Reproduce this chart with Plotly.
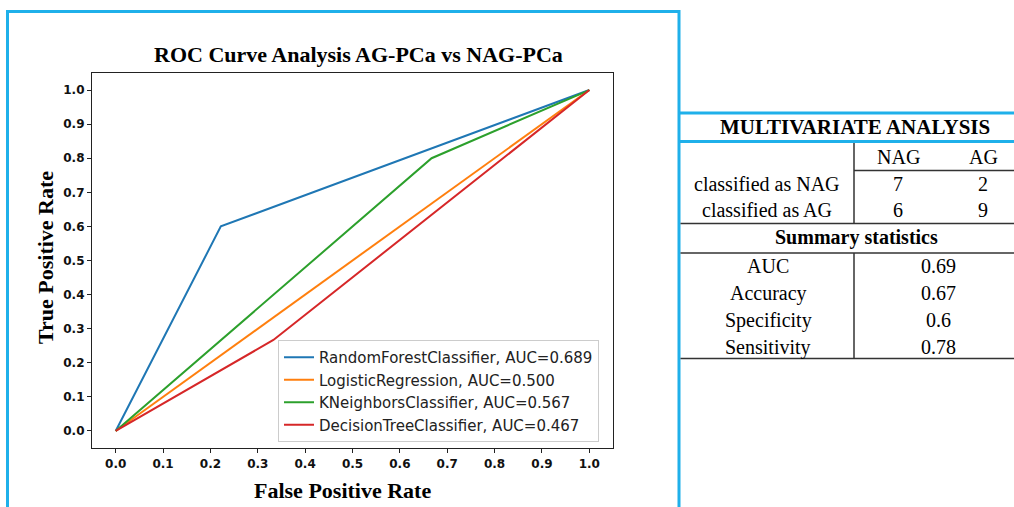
import plotly.graph_objects as go

# ---------------- data ----------------
model_names = ["RandomForestClassifier", "LogisticRegression", "KNeighborsClassifier", "DecisionTreeClassifier"]
model_auc = ["0.689", "0.500", "0.567", "0.467"]
fpr_rf = [0.0, 0.222, 1.0]
tpr_rf = [0.0, 0.6, 1.0]
fpr_lr = [0.0, 1.0]
tpr_lr = [0.0, 1.0]
fpr_knn = [0.0, 0.667, 1.0]
tpr_knn = [0.0, 0.8, 1.0]
fpr_dt = [0.0, 0.333, 1.0]
tpr_dt = [0.0, 0.267, 1.0]
line_colors = ["#1f77b4", "#ff7f0e", "#2ca02c", "#d62728"]

tick_vals = [0.0, 0.1, 0.2, 0.3, 0.4, 0.5, 0.6, 0.7, 0.8, 0.9, 1.0]

chart_title = "ROC Curve Analysis AG-PCa vs NAG-PCa"
x_title = "False Positive Rate"
y_title = "True Positive Rate"

table_title = "MULTIVARIATE ANALYSIS"
col_labels = ["NAG", "AG"]
row_labels = ["classified as NAG", "classified as AG"]
confusion = [[7, 2], [6, 9]]
summary_title = "Summary statistics"
stat_names = ["AUC", "Accuracy", "Specificity", "Sensitivity"]
stat_values = ["0.69", "0.67", "0.6", "0.78"]

# ---------------- layout geometry (pixels) ----------------
W, H = 1014, 507
L, R, T, B = 92, 401, 73, 59
PW = W - L - R
PH = H - T - B


def px(x):
    return (x - L) / PW


def py(y):
    return (H - B - y) / PH


SERIF = "Liberation Serif, Times New Roman, serif"
SANS = "DejaVu Sans, sans-serif"
BLUE = "#1fb0ea"

fig = go.Figure()
series = [(fpr_rf, tpr_rf), (fpr_lr, tpr_lr), (fpr_knn, tpr_knn), (fpr_dt, tpr_dt)]
for (fx, ty), name, auc, col in zip(series, model_names, model_auc, line_colors):
    fig.add_trace(go.Scatter(
        x=fx, y=ty, mode="lines", name=f"{name}, AUC={auc}",
        line=dict(color=col, width=2),
    ))

axis_common = dict(
    range=[-0.05, 1.05], tickvals=tick_vals, tickformat=".1f",
    showgrid=False, zeroline=False, showline=True, mirror=True,
    linecolor="#222222", linewidth=1.2, ticks="outside", ticklen=4,
    tickcolor="#222222", tickwidth=1.2,
    tickfont=dict(family=SANS, size=12, color="#111111", weight="bold"),
)

fig.update_layout(
    width=W, height=H,
    margin=dict(l=L, r=R, t=T, b=B),
    paper_bgcolor="white", plot_bgcolor="white",
    xaxis=axis_common, yaxis=axis_common,
    showlegend=True,
    legend=dict(
        x=px(278), y=py(442), xanchor="left", yanchor="bottom",
        bgcolor="rgba(255,255,255,0.85)", bordercolor="#cccccc", borderwidth=1,
        font=dict(family=SANS, size=15, color="#222222"),
    ),
)

ann = []
# chart titles
ann.append(dict(text=f"<b>{chart_title}</b>", x=px(358), y=py(55), font=dict(family=SERIF, size=22, color="black")))
ann.append(dict(text=f"<b>{x_title}</b>", x=px(342), y=py(490), font=dict(family=SERIF, size=22, color="black")))
ann.append(dict(text=f"<b>{y_title}</b>", x=px(45), y=py(258), textangle=-90, font=dict(family=SERIF, size=22, color="black")))

# table text
tf = dict(family=SERIF, size=20, color="black")
ann.append(dict(text=f"<b>{table_title}</b>", x=px(855), y=py(127), font=dict(family=SERIF, size=21, color="black")))
col_x = [898, 983]
for cx, lab in zip(col_x, col_labels):
    ann.append(dict(text=lab, x=px(cx), y=py(157), font=tf))
row_y = [184, 210]
for ry, lab, vals in zip(row_y, row_labels, confusion):
    ann.append(dict(text=lab, x=px(767), y=py(ry), font=tf))
    for cx, v in zip(col_x, vals):
        ann.append(dict(text=str(v), x=px(cx), y=py(ry), font=tf))
ann.append(dict(text=f"<b>{summary_title}</b>", x=px(856), y=py(238), font=tf))
stat_y = [266, 293, 320, 347]
for sy, n, v in zip(stat_y, stat_names, stat_values):
    ann.append(dict(text=n, x=px(768), y=py(sy), font=tf))
    ann.append(dict(text=v, x=px(938), y=py(sy), font=tf))

for a in ann:
    a.update(xref="paper", yref="paper", showarrow=False, xanchor="center", yanchor="middle")
fig.update_layout(annotations=ann)

# frame and table lines
shapes = []
shapes.append(dict(type="path",
                   path=f"M {px(7.5)},{py(512)} L {px(7.5)},{py(11.5)} L {px(679)},{py(11.5)} L {px(679)},{py(512)}",
                   line=dict(color=BLUE, width=3)))
for yy in [113, 141.5]:
    shapes.append(dict(type="line", x0=px(679), x1=px(1016), y0=py(yy), y1=py(yy), line=dict(color=BLUE, width=3)))
BLK = dict(color="#333333", width=1.5)
shapes.append(dict(type="line", x0=px(854), x1=px(1016), y0=py(170.5), y1=py(170.5), line=BLK))
for yy in [223.5, 253, 358.5]:
    shapes.append(dict(type="line", x0=px(680.5), x1=px(1016), y0=py(yy), y1=py(yy), line=BLK))
shapes.append(dict(type="line", x0=px(854), x1=px(854), y0=py(143), y1=py(223.5), line=BLK))
shapes.append(dict(type="line", x0=px(854), x1=px(854), y0=py(253), y1=py(358.5), line=BLK))
for s in shapes:
    s.update(xref="paper", yref="paper", layer="above")
fig.update_layout(shapes=shapes)

fig.write_html(
    "out.html",
    config={"displayModeBar": False},
    post_script="document.body.style.margin='0';document.body.style.overflow='hidden';",
)
